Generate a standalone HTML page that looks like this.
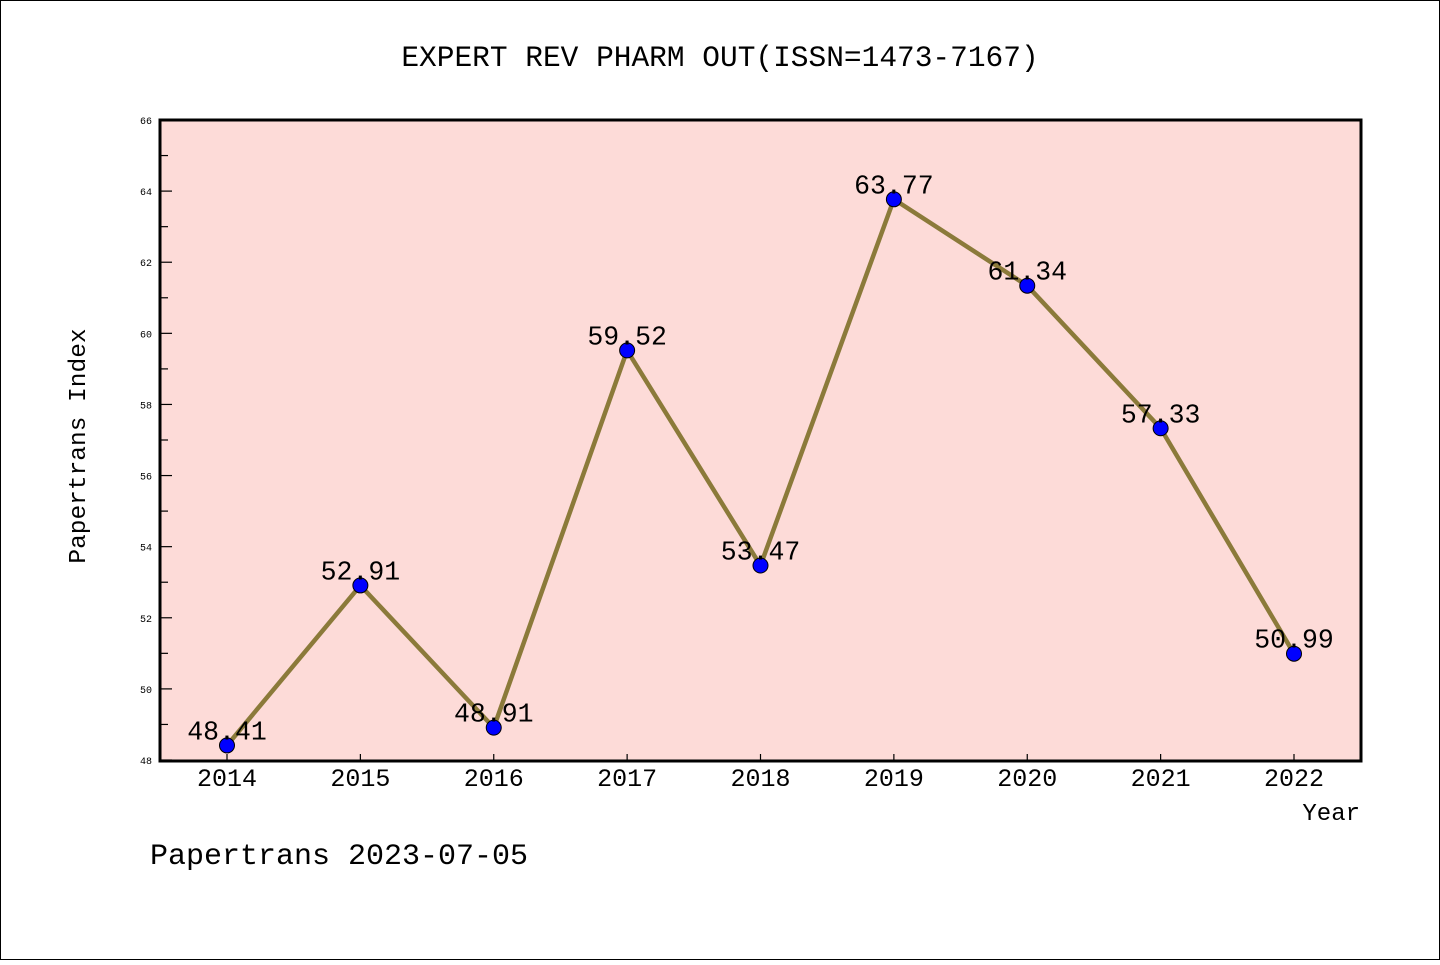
<!DOCTYPE html>
<html><head><meta charset="utf-8"><style>
body{margin:0;background:#fff}
svg text{font-family:"Liberation Mono","DejaVu Sans Mono",monospace}
</style></head><body>
<svg width="1440" height="960" xmlns="http://www.w3.org/2000/svg">
<rect x="0.5" y="0.5" width="1439" height="959" fill="#fff" stroke="#000"/>
<text x="720" y="66" font-size="29.5" text-anchor="middle">EXPERT REV PHARM OUT(ISSN=1473-7167)</text>
<rect x="160" y="120" width="1201" height="641" fill="#fddbd8"/>
<g id="g"></g>
<rect x="160" y="120" width="1201" height="641" fill="none" stroke="#000" stroke-width="3"/>
<text x="85" y="446" font-size="24.5" text-anchor="middle" transform="rotate(-90 85 446)">Papertrans Index</text>
<text x="1360" y="820" font-size="24" text-anchor="end">Year</text>
<text x="150" y="864" font-size="30">Papertrans 2023-07-05</text>
</svg>
<script>
const years=[2014,2015,2016,2017,2018,2019,2020,2021,2022];
const values=[48.41,52.91,48.91,59.52,53.47,63.77,61.34,57.33,50.99];
const yTicks=[48,50,52,54,56,58,60,62,64,66];
const NS="http://www.w3.org/2000/svg";
const g=document.getElementById('g');
const xs=i=>227+(1294-227)*i/(years.length-1);
const ys=v=>760-(v-48)*(640/18);
function mk(t,a,txt){const e=document.createElementNS(NS,t);for(const k in a)e.setAttribute(k,a[k]);if(txt!==undefined)e.textContent=txt;g.appendChild(e);return e;}
for(let v=48;v<=66;v++){
  const l=mk('line',{x1:160,x2:v%2?168:172,y1:ys(v),y2:ys(v),stroke:'#000','stroke-width':1.2});
  
  
}
yTicks.forEach(v=>{
  const t=mk('text',{x:152,y:ys(v)+4,'font-size':10,'text-anchor':'end'},v);
  
  
});
years.forEach((y,i)=>{
  const l=mk('line',{x1:xs(i),x2:xs(i),y1:754,y2:761,stroke:'#000','stroke-width':1.2});
  
  
  const t=mk('text',{x:xs(i),y:786,'font-size':25,'text-anchor':'middle'},y);
  
  
});
const p=mk('polyline',{points:values.map((v,i)=>xs(i)+','+ys(v)).join(' '),fill:'none',stroke:'#8b7a3a','stroke-width':4.5,'stroke-linejoin':'round'});


values.forEach((v,i)=>{
  const c=mk('circle',{cx:xs(i),cy:ys(v),r:7.5,fill:'#0000ff',stroke:'#000','stroke-width':1});
  
  
  const t=mk('text',{x:xs(i),y:ys(v)-6,'font-size':26.5,'text-anchor':'middle'},v.toFixed(2));
  
  
});
</script>
</body></html>
